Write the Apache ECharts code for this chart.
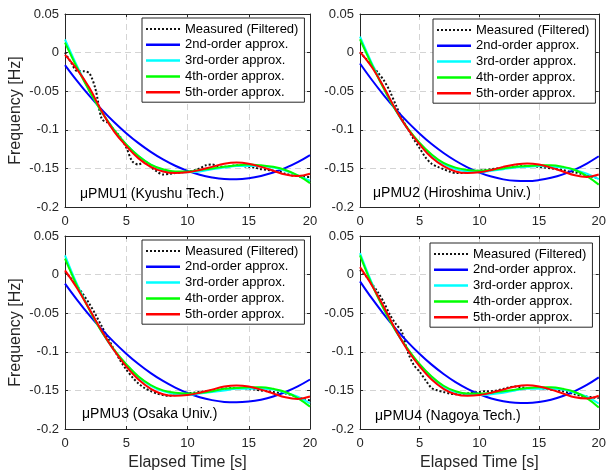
<!DOCTYPE html>
<html>
<head>
<meta charset="utf-8">
<script src="https://cdn.jsdelivr.net/npm/echarts@6/dist/echarts.min.js"></script>
<style>
html,body{margin:0;padding:0;background:#fff;}
#chart{width:609px;height:476px;}
</style>
</head>
<body>
<div id="chart"></div>
<script>
// ---- data ----
const xFit = [0,1,2,3,4,5,6,7,8,9,10,11,12,13,14,15,16,17,18,19,20];
const xMeas = [0,0.5,1,1.5,2,2.5,3,3.5,4,4.5,5,5.5,6,6.5,7,7.5,8,8.5,9,9.5,10,10.5,11,11.5,12,12.5,13,13.5,14,14.5,15,15.5,16,16.5,17,17.5,18,18.5,19,19.5,20];
const xTicks = [0,5,10,15,20];
const yTicks = [-0.2,-0.15,-0.1,-0.05,0,0.05];

const seriesNames = ['Measured (Filtered)','2nd-order approx.','3rd-order approx.','4th-order approx.','5th-order approx.'];
const panelLabels = ['\u03bcPMU1 (Kyushu Tech.)','\u03bcPMU2 (Hiroshima Univ.)','\u03bcPMU3 (Osaka Univ.)','\u03bcPMU4 (Nagoya Tech.)'];

// Panel 1
const meas1 = [0.000,-0.013,-0.024,-0.024,-0.027,-0.048,-0.086,-0.091,-0.100,-0.109,-0.123,-0.141,-0.145,-0.141,-0.148,-0.154,-0.158,-0.157,-0.156,-0.155,-0.154,-0.153,-0.150,-0.146,-0.145,-0.147,-0.148,-0.147,-0.146,-0.147,-0.148,-0.149,-0.151,-0.152,-0.153,-0.154,-0.157,-0.159,-0.160,-0.161,-0.161];
const blue1 = [-0.0161,-0.0369,-0.0561,-0.0738,-0.0899,-0.1044,-0.1173,-0.1286,-0.1384,-0.1466,-0.1532,-0.1583,-0.1617,-0.1636,-0.1639,-0.1627,-0.1598,-0.1554,-0.1494,-0.1419,-0.1327];
const cyan1 = [0.017,-0.018,-0.049,-0.077,-0.100,-0.119,-0.134,-0.145,-0.152,-0.155,-0.155,-0.154,-0.151,-0.149,-0.147,-0.147,-0.147,-0.149,-0.153,-0.159,-0.166];
const green1 = [0.013,-0.020,-0.050,-0.077,-0.100,-0.119,-0.134,-0.145,-0.151,-0.154,-0.154,-0.152,-0.150,-0.148,-0.146,-0.145,-0.146,-0.148,-0.152,-0.159,-0.169];
const red1 = [-0.003,-0.022,-0.046,-0.076,-0.102,-0.121,-0.137,-0.148,-0.154,-0.156,-0.155,-0.152,-0.148,-0.144,-0.1425,-0.144,-0.148,-0.153,-0.158,-0.160,-0.157];

// Panel 2
const meas2 = [0.000,-0.008,-0.017,-0.026,-0.036,-0.050,-0.068,-0.085,-0.099,-0.112,-0.124,-0.136,-0.144,-0.148,-0.151,-0.154,-0.156,-0.156,-0.155,-0.154,-0.153,-0.152,-0.151,-0.150,-0.149,-0.149,-0.148,-0.147,-0.147,-0.147,-0.148,-0.149,-0.150,-0.151,-0.152,-0.154,-0.155,-0.157,-0.159,-0.161,-0.163];
const blue2 = [-0.0141,-0.0355,-0.0553,-0.0735,-0.0901,-0.1050,-0.1184,-0.1300,-0.1401,-0.1486,-0.1554,-0.1606,-0.1642,-0.1661,-0.1664,-0.1651,-0.1622,-0.1577,-0.1515,-0.1437,-0.1343];
const cyan2 = [0.0208,-0.014,-0.046,-0.075,-0.099,-0.118,-0.133,-0.144,-0.151,-0.154,-0.155,-0.153,-0.151,-0.149,-0.148,-0.147,-0.148,-0.149,-0.152,-0.157,-0.164];
const green2 = [0.0173,-0.016,-0.047,-0.075,-0.098,-0.117,-0.132,-0.143,-0.149,-0.152,-0.153,-0.152,-0.150,-0.148,-0.147,-0.146,-0.146,-0.148,-0.152,-0.160,-0.171];
const red2 = [0.001,-0.019,-0.045,-0.074,-0.099,-0.119,-0.136,-0.147,-0.154,-0.156,-0.155,-0.152,-0.148,-0.145,-0.1435,-0.145,-0.149,-0.154,-0.159,-0.161,-0.158];

// Panel 3
const meas3 = [0.003,-0.005,-0.015,-0.026,-0.038,-0.052,-0.067,-0.082,-0.097,-0.111,-0.123,-0.133,-0.141,-0.147,-0.151,-0.154,-0.156,-0.157,-0.156,-0.155,-0.154,-0.153,-0.152,-0.151,-0.150,-0.149,-0.148,-0.147,-0.147,-0.147,-0.148,-0.149,-0.150,-0.151,-0.152,-0.153,-0.154,-0.156,-0.159,-0.161,-0.163];
const blue3 = [-0.0117,-0.0330,-0.0528,-0.0709,-0.0875,-0.1024,-0.1158,-0.1276,-0.1378,-0.1464,-0.1534,-0.1588,-0.1626,-0.1649,-0.1655,-0.1645,-0.1620,-0.1579,-0.1521,-0.1448,-0.1359];
const cyan3 = [0.025,-0.013,-0.045,-0.074,-0.098,-0.117,-0.133,-0.144,-0.151,-0.155,-0.156,-0.154,-0.152,-0.150,-0.148,-0.148,-0.148,-0.149,-0.153,-0.158,-0.167];
const green3 = [0.0208,-0.015,-0.046,-0.074,-0.097,-0.116,-0.132,-0.143,-0.150,-0.153,-0.154,-0.153,-0.151,-0.148,-0.147,-0.146,-0.146,-0.148,-0.152,-0.160,-0.171];
const red3 = [0.0055,-0.018,-0.045,-0.073,-0.098,-0.119,-0.136,-0.148,-0.155,-0.157,-0.156,-0.153,-0.149,-0.145,-0.1436,-0.145,-0.149,-0.154,-0.159,-0.161,-0.158];

// Panel 4
const meas4 = [0.006,-0.002,-0.012,-0.023,-0.036,-0.052,-0.064,-0.074,-0.100,-0.117,-0.126,-0.137,-0.147,-0.150,-0.152,-0.154,-0.155,-0.155,-0.154,-0.153,-0.152,-0.151,-0.151,-0.150,-0.148,-0.146,-0.145,-0.146,-0.147,-0.147,-0.147,-0.148,-0.149,-0.150,-0.151,-0.153,-0.155,-0.157,-0.158,-0.159,-0.160];
const blue4 = [-0.0087,-0.0309,-0.0514,-0.0702,-0.0874,-0.1028,-0.1166,-0.1287,-0.1392,-0.1479,-0.1550,-0.1604,-0.1641,-0.1661,-0.1664,-0.1651,-0.1621,-0.1573,-0.1509,-0.1429,-0.1331];
const cyan4 = [0.0278,-0.011,-0.044,-0.073,-0.097,-0.117,-0.133,-0.145,-0.152,-0.155,-0.156,-0.155,-0.153,-0.150,-0.148,-0.148,-0.148,-0.149,-0.153,-0.158,-0.167];
const green4 = [0.0248,-0.013,-0.045,-0.073,-0.096,-0.116,-0.132,-0.144,-0.151,-0.154,-0.154,-0.153,-0.151,-0.149,-0.147,-0.146,-0.146,-0.148,-0.152,-0.160,-0.172];
const red4 = [0.0096,-0.014,-0.042,-0.072,-0.098,-0.119,-0.136,-0.148,-0.155,-0.157,-0.156,-0.153,-0.149,-0.145,-0.1434,-0.145,-0.149,-0.154,-0.159,-0.1605,-0.157];

const panels = [
  {meas: meas1, fits: [blue1, cyan1, green1, red1]},
  {meas: meas2, fits: [blue2, cyan2, green2, red2]},
  {meas: meas3, fits: [blue3, cyan3, green3, red3]},
  {meas: meas4, fits: [blue4, cyan4, green4, red4]}
];

// ---- layout / style ----
const FONT = '"Liberation Sans", Arial, Helvetica, sans-serif';
const AXC = '#262626';
const fitColors = ['#0000ff', '#00ffff', '#00ff00', '#ff0000'];
const gridPos = [
  {left: 65, top: 14, width: 245, height: 193},
  {left: 360, top: 14, width: 244, height: 193},
  {left: 65, top: 236, width: 245, height: 193},
  {left: 360, top: 236, width: 244, height: 193}
];
const legendPos = [
  {left: 142, top: 18},
  {left: 433, top: 19},
  {left: 142, top: 240},
  {left: 430, top: 243}
];
const labelPos = [
  {x: 80, y: 195},
  {x: 373, y: 194},
  {x: 82, y: 415},
  {x: 375, y: 417}
];

// dotted legend sample: small squares along the sample line
let dotPath = '';
for (let d = 0; d < 34; d += 4) dotPath += 'M' + d + ' 0h2v2h-2z';
const legendIcons = ['path://' + dotPath, 'rect', 'rect', 'rect', 'rect'];

const zip = (xs, ys) => xs.map((x, i) => [x, ys[i]]);
const fmtY = v => String(+Number(v).toFixed(2));

const grid = [], xAxis = [], yAxis = [], series = [], legend = [], graphic = [];

panels.forEach((p, i) => {
  grid.push(Object.assign({show: false, containLabel: false}, gridPos[i]));
  const isBottom = i >= 2, isLeft = i % 2 === 0;
  xAxis.push({
    type: 'value', gridIndex: i, min: xTicks[0], max: xTicks[xTicks.length - 1], interval: 5,
    position: 'bottom',
    name: isBottom ? 'Elapsed Time [s]' : '',
    nameLocation: 'middle', nameGap: 26,
    nameTextStyle: {fontSize: 16, color: AXC, fontFamily: FONT},
    axisLine: {show: true, onZero: false, lineStyle: {color: AXC, width: 1}},
    axisTick: {show: true, inside: true, length: 3, lineStyle: {color: AXC}},
    axisLabel: {show: true, fontSize: 13, color: AXC, fontFamily: FONT, margin: 8},
    splitLine: {show: true, lineStyle: {color: '#d4d4d4', type: [6, 4], width: 1}}
  });
  xAxis.push({
    type: 'value', gridIndex: i, min: 0, max: 20, interval: 5, position: 'top',
    axisLine: {show: true, onZero: false, lineStyle: {color: AXC, width: 1}},
    axisTick: {show: true, inside: true, length: 3, lineStyle: {color: AXC}},
    axisLabel: {show: false}, splitLine: {show: false}
  });
  yAxis.push({
    type: 'value', gridIndex: i, min: yTicks[0], max: yTicks[yTicks.length - 1], interval: 0.05,
    position: 'left',
    name: isLeft ? 'Frequency [Hz]' : '',
    nameLocation: 'middle', nameGap: 41, nameRotate: 90,
    nameTextStyle: {fontSize: 16, color: AXC, fontFamily: FONT},
    axisLine: {show: true, onZero: false, lineStyle: {color: AXC, width: 1}},
    axisTick: {show: true, inside: true, length: 3, lineStyle: {color: AXC}},
    axisLabel: {show: true, fontSize: 13, color: AXC, fontFamily: FONT, margin: 6, formatter: fmtY},
    splitLine: {show: true, lineStyle: {color: '#d4d4d4', type: [6, 4], width: 1}}
  });
  yAxis.push({
    type: 'value', gridIndex: i, min: -0.2, max: 0.05, interval: 0.05, position: 'right',
    axisLine: {show: true, onZero: false, lineStyle: {color: AXC, width: 1}},
    axisTick: {show: true, inside: true, length: 3, lineStyle: {color: AXC}},
    axisLabel: {show: false}, splitLine: {show: false}
  });
  const xi = i * 2, yi = i * 2;
  series.push({
    name: seriesNames[0], type: 'line', xAxisIndex: xi, yAxisIndex: yi,
    data: zip(xMeas, p.meas), showSymbol: false, symbol: 'none', smooth: 0.3,
    lineStyle: {color: '#111', width: 2, type: [2, 2]}, itemStyle: {color: '#111'}, z: 2
  });
  p.fits.forEach((f, k) => {
    series.push({
      name: seriesNames[k + 1], type: 'line', xAxisIndex: xi, yAxisIndex: yi,
      data: zip(xFit, f), showSymbol: false, symbol: 'none', smooth: 0.4,
      lineStyle: {color: fitColors[k], width: 2}, itemStyle: {color: fitColors[k]}, z: 3 + k
    });
  });
  legend.push({
    left: legendPos[i].left, top: legendPos[i].top, orient: 'vertical',
    padding: [4, 6, 3, 4], itemWidth: 34, itemHeight: 2.5, itemGap: 1.8,
    borderColor: AXC, borderWidth: 1, backgroundColor: '#fff',
    textStyle: {fontSize: 13, color: '#000', fontFamily: FONT, lineHeight: 14},
    selectedMode: false,
    data: seriesNames.map((n, k) => ({name: n, icon: legendIcons[k]}))
  });
  graphic.push({
    type: 'text', left: labelPos[i].x, top: labelPos[i].y - 8, z: 100,
    style: {text: panelLabels[i], font: '14px ' + FONT, fill: '#000'}
  });
});

const chart = echarts.init(document.getElementById('chart'), null, {renderer: 'canvas'});
chart.setOption({
  backgroundColor: '#fff',
  animation: false,
  grid, xAxis, yAxis, series, legend, graphic
});
</script>
</body>
</html>
